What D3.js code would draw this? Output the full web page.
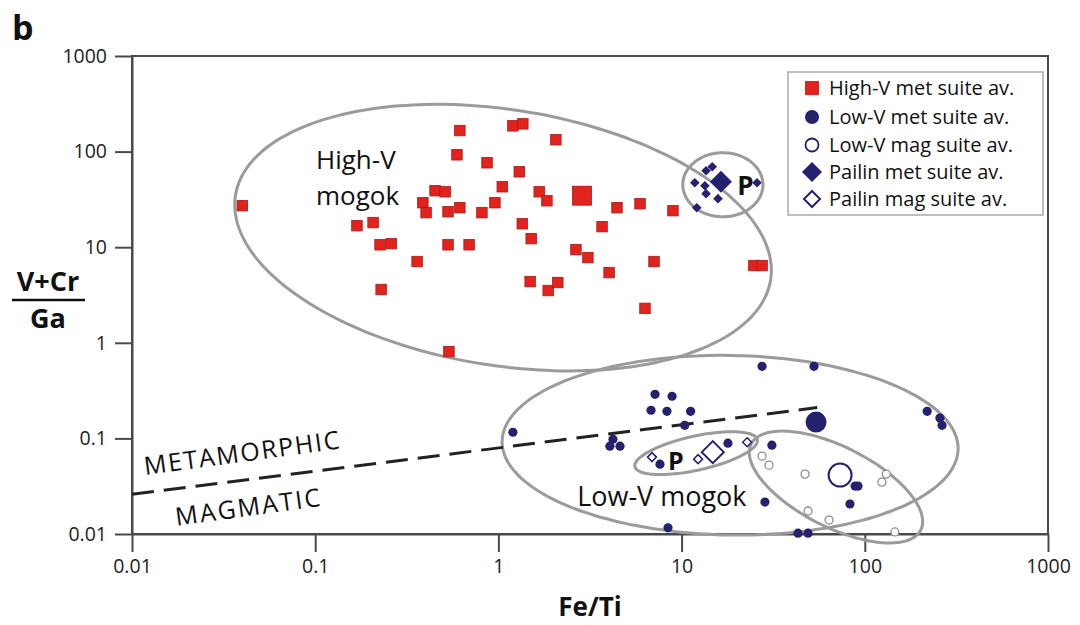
<!DOCTYPE html>
<html>
<head>
<meta charset="utf-8">
<script src="https://cdn.jsdelivr.net/npm/d3@7"></script>
<style>
  html, body { margin: 0; padding: 0; background: #fff; }
  svg { display: block; font-family: "Open Sans", "DejaVu Sans", sans-serif; }
</style>
</head>
<body>
<svg id="chart" width="1080" height="625"></svg>
<script>
// ---- data: [Fe/Ti, (V+Cr)/Ga] ----
const highVMet = [
  [0.040, 27.2], [0.169, 16.8], [0.207, 18.1], [0.226, 10.6], [0.260, 10.9],
  [0.229, 3.61], [0.360, 7.08], [0.387, 29.2], [0.403, 23.0], [0.451, 39.0],
  [0.512, 38.0], [0.531, 23.5], [0.616, 25.9], [0.531, 10.6], [0.692, 10.6],
  [0.537, 0.81], [0.594, 92.6], [0.616, 166], [0.813, 23.0], [0.867, 76.4],
  [0.957, 29.2], [1.05, 42.9], [1.20, 186], [1.36, 195], [1.30, 61.5],
  [1.35, 17.6], [2.06, 133], [1.67, 38.0], [1.84, 30.6], [1.51, 12.3],
  [2.65, 9.44], [3.08, 7.79], [4.44, 25.9], [5.93, 28.5], [8.97, 24.1],
  [3.68, 16.4], [7.07, 7.08], [4.02, 5.43], [1.49, 4.37], [1.87, 3.52],
  [2.11, 4.27], [6.31, 2.29], [24.8, 6.43], [27.5, 6.43]
];
const highVMetAvg = [[2.86, 34.6]];

const lowVMet = [
  [27.5, 0.567], [52.8, 0.567], [7.16, 0.289], [8.87, 0.276], [6.81, 0.197],
  [8.32, 0.192], [11.2, 0.192], [10.4, 0.137], [1.20, 0.116], [4.22, 0.098],
  [4.06, 0.083], [4.61, 0.083], [7.62, 0.0538], [17.9, 0.0891], [31.1, 0.0849],
  [28.5, 0.0216], [8.43, 0.0116], [219, 0.192], [257, 0.163], [264, 0.137],
  [88.5, 0.0317], [91.8, 0.0317], [83.0, 0.0206], [43.2, 0.0102], [49.0, 0.0102]
];
const lowVMetAvg = [[54.2, 0.148]];

const lowVMag = [
  [27.5, 0.0652], [30.0, 0.0525], [47.2, 0.0423], [131, 0.0423],
  [124, 0.0349], [49.0, 0.0174], [63.8, 0.0140], [146, 0.0105]
];
const lowVMagAvg = [[73.3, 0.0413]];

const pailinMet = [
  [14.7, 69.4], [13.6, 63.0], [11.8, 47.2], [13.4, 44.0],
  [13.6, 36.3], [15.8, 32.2], [12.1, 25.9], [25.8, 47.2]
];
const pailinMetAvg = [[16.4, 48.4]];

const pailinMag = [[6.89, 0.0637], [12.3, 0.0607], [22.8, 0.0912]];
const pailinMagAvg = [[14.8, 0.0718]];

// field outlines: centre, end of first semi-diameter, end of conjugate semi-diameter
const fields = [
  { name: "High-V mogok", c: [1.06, 12.6], m: [30.6, 4.55], n: [0.825, 0.60] },
  { name: "Pailin met",   c: [16.8, 45.0], m: [27.8, 45.0], n: [16.8, 20.8] },
  { name: "Low-V mogok",  c: [18.4, 0.0849], m: [323, 0.0771], n: [18.0, 0.00977] },
  { name: "Pailin mag",   c: [12.0, 0.0701], m: [25.9, 0.0972], n: [12.6, 0.0470] },
  { name: "Low-V mag",    c: [69.6, 0.0310], m: [202, 0.0110], n: [55.4, 0.0131] }
];

// metamorphic / magmatic divide
const divideLine = [[0.01, 0.026], [55, 0.21]];

const tickValues = [0.01, 0.1, 1, 10, 100, 1000];
const tickLabels = ["0.01", "0.1", "1", "10", "100", "1000"];

const legendItems = [
  { key: "highV", label: "High-V met suite av." },
  { key: "lowVMet", label: "Low-V met suite av." },
  { key: "lowVMag", label: "Low-V mag suite av." },
  { key: "pailinMet", label: "Pailin met suite av." },
  { key: "pailinMag", label: "Pailin mag suite av." }
];

// ---- drawing ----
const RED = "#e2231d", RED_EDGE = "#a81a16", NAVY = "#27206f", GREY = "#9b9b9b", AXIS = "#4a4a4a";

const svg = d3.select("#chart");
const x = d3.scaleLog().domain([0.01, 1000]).range([132, 1048]);
const y = d3.scaleLog().domain([0.01, 1000]).range([534, 56]);

// frame (top and right)
svg.append("rect")
  .attr("x", x(0.01)).attr("y", y(1000))
  .attr("width", x(1000) - x(0.01)).attr("height", y(0.01) - y(1000))
  .attr("fill", "none").attr("stroke", AXIS).attr("stroke-width", 2);

const fmt = d => tickLabels[tickValues.indexOf(d)];

const gx = svg.append("g").attr("transform", `translate(0,${y(0.01)})`)
  .call(d3.axisBottom(x).tickValues(tickValues).tickFormat(fmt).tickSize(18).tickSizeOuter(0).tickPadding(7));
const gy = svg.append("g").attr("transform", `translate(${x(0.01)},0)`)
  .call(d3.axisLeft(y).tickValues(tickValues).tickFormat(fmt).tickSize(17).tickSizeOuter(0).tickPadding(8));
[gx, gy].forEach(g => {
  g.select(".domain").attr("stroke", AXIS).attr("stroke-width", 2);
  g.selectAll(".tick line").attr("stroke", AXIS).attr("stroke-width", 2);
  g.selectAll(".tick text").attr("fill", "#222").style("font-size", "19.5px")
    .style("font-family", "'Open Sans', sans-serif");
});

// field outlines
const ellipsePts = f => {
  const c = [x(f.c[0]), y(f.c[1])], m = [x(f.m[0]), y(f.m[1])], n = [x(f.n[0]), y(f.n[1])];
  return d3.range(0, 120).map(i => {
    const t = i / 120 * 2 * Math.PI;
    return [c[0] + (m[0] - c[0]) * Math.cos(t) + (n[0] - c[0]) * Math.sin(t),
            c[1] + (m[1] - c[1]) * Math.cos(t) + (n[1] - c[1]) * Math.sin(t)];
  });
};
svg.append("g").selectAll("path").data(fields).join("path")
  .attr("d", f => d3.line().curve(d3.curveCardinalClosed)(ellipsePts(f)))
  .attr("fill", "none").attr("stroke", GREY).attr("stroke-width", 3);

// divide line
svg.append("path")
  .attr("d", d3.line().x(d => x(d[0])).y(d => y(d[1]))(divideLine))
  .attr("fill", "none").attr("stroke", "#222").attr("stroke-width", 3)
  .attr("stroke-dasharray", "22,10");

// marker helpers
const diamond = h => `M0,${-h}L${h},0L0,${h}L${-h},0Z`;
const tr = d => `translate(${x(d[0])},${y(d[1])})`;

function squares(data, s) {
  svg.append("g").selectAll("rect").data(data).join("rect")
    .attr("x", d => x(d[0]) - s / 2).attr("y", d => y(d[1]) - s / 2)
    .attr("width", s).attr("height", s)
    .attr("fill", RED).attr("stroke", RED_EDGE).attr("stroke-width", 0.8);
}
function circles(data, r, fill, stroke, sw) {
  svg.append("g").selectAll("circle").data(data).join("circle")
    .attr("cx", d => x(d[0])).attr("cy", d => y(d[1])).attr("r", r)
    .attr("fill", fill).attr("stroke", stroke).attr("stroke-width", sw);
}
function diamonds(data, h, fill, stroke, sw) {
  svg.append("g").selectAll("path").data(data).join("path")
    .attr("transform", tr).attr("d", diamond(h))
    .attr("fill", fill).attr("stroke", stroke).attr("stroke-width", sw);
}

squares(highVMet, 10.5);
squares(highVMetAvg, 19);
circles(lowVMet, 4.6, NAVY, "none", 0);
circles(lowVMetAvg, 10.5, NAVY, "none", 0);
circles(lowVMag, 4, "#fff", "#8d8d98", 1.3);
circles(lowVMagAvg, 11.5, "none", NAVY, 2);
diamonds(pailinMet, 4.8, NAVY, "none", 0);
diamonds(pailinMetAvg, 11, NAVY, "none", 0);
diamonds(pailinMag, 4.5, "#fff", NAVY, 1.5);
diamonds(pailinMagAvg, 11, "#fff", NAVY, 2);

// field labels (anchored in data space)
const label = (txt, d, size, weight) =>
  svg.append("text").attr("x", x(d[0])).attr("y", y(d[1]))
    .attr("fill", "#111").style("font-size", size + "px").style("font-weight", weight).text(txt);

label("High-V", [0.101, 65.8], 26, 400);
label("mogok", [0.101, 27.6], 26, 400);
label("Low-V mogok", [2.69, 0.0197], 27, 400);
label("P", [8.43, 0.0468], 25, 700);
label("P", [20.1, 35.2], 26, 700);

const rotLabel = (txt, d, len) => {
  svg.append("text").attr("transform", `translate(${x(d[0])},${y(d[1])}) rotate(-7.8)`)
    .attr("textLength", len).attr("lengthAdjust", "spacing")
    .attr("fill", "#111").style("font-size", "25px").text(txt);
};
rotLabel("METAMORPHIC", [0.0118, 0.0413], 197);
rotLabel("MAGMATIC", [0.0175, 0.0122], 146);

// axis titles
svg.append("text").attr("x", 12).attr("y", 40)
  .style("font-size", "34px").style("font-weight", 700).attr("fill", "#111").text("b");
svg.append("text").attr("x", (x(0.01) + x(1000)) / 2).attr("y", 616).attr("text-anchor", "middle")
  .style("font-size", "26px").style("font-weight", 700).attr("fill", "#111").text("Fe/Ti");
svg.append("text").attr("x", 48).attr("y", 291).attr("text-anchor", "middle")
  .style("font-size", "27px").style("font-weight", 700).attr("fill", "#111").text("V+Cr");
svg.append("line").attr("x1", 12).attr("x2", 85).attr("y1", 300).attr("y2", 300)
  .attr("stroke", "#111").attr("stroke-width", 2.5);
svg.append("text").attr("x", 48).attr("y", 328).attr("text-anchor", "middle")
  .style("font-size", "27px").style("font-weight", 700).attr("fill", "#111").text("Ga");

// legend
const lg = svg.append("g");
lg.append("rect").attr("x", 788).attr("y", 72).attr("width", 255).attr("height", 143)
  .attr("fill", "#fff").attr("stroke", "#aaa").attr("stroke-width", 1.5);
const rowY = [88, 117, 145, 172, 199];
legendItems.forEach((it, i) => {
  const cy = rowY[i], cx = 812;
  const g = lg.append("g");
  if (it.key === "highV") g.append("rect").attr("x", cx - 7).attr("y", cy - 7).attr("width", 14).attr("height", 14).attr("fill", RED);
  if (it.key === "lowVMet") g.append("circle").attr("cx", cx).attr("cy", cy).attr("r", 7).attr("fill", NAVY);
  if (it.key === "lowVMag") g.append("circle").attr("cx", cx).attr("cy", cy).attr("r", 6.5).attr("fill", "#fff").attr("stroke", NAVY).attr("stroke-width", 1.8);
  if (it.key === "pailinMet") g.append("path").attr("transform", `translate(${cx},${cy})`).attr("d", diamond(10)).attr("fill", NAVY);
  if (it.key === "pailinMag") g.append("path").attr("transform", `translate(${cx},${cy})`).attr("d", diamond(8)).attr("fill", "#fff").attr("stroke", NAVY).attr("stroke-width", 2);
  g.append("text").attr("x", 829).attr("y", cy).attr("dy", "0.35em")
    .attr("fill", "#111").style("font-size", "20px").text(it.label);
});
</script>
</body>
</html>
